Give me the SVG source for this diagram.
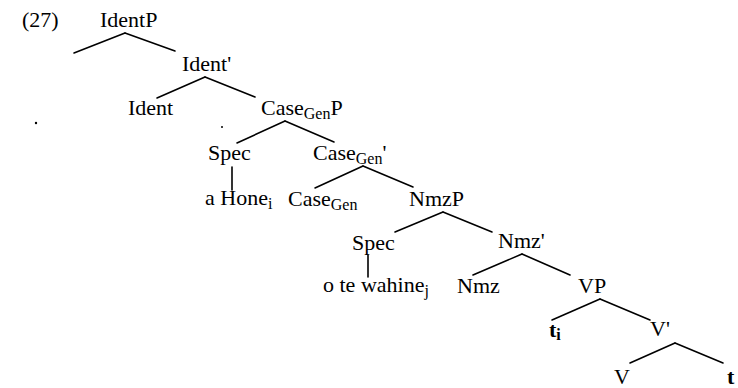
<svg xmlns="http://www.w3.org/2000/svg" width="738" height="388" viewBox="0 0 738 388">
<style>
text{font-family:"Liberation Serif","Times New Roman",serif;font-size:22px;fill:#000}
.sub{font-size:16px}
.b{font-weight:bold}
line{stroke:#000;stroke-width:1.6;stroke-linecap:round}
</style>
<rect width="738" height="388" fill="#fff"/>
<text x="22" y="27">(27)</text>
<g id="connectors">
<line x1="125" y1="33" x2="74" y2="53"/><line x1="125" y1="33" x2="175" y2="51"/>
<line x1="205" y1="77" x2="157" y2="98"/><line x1="205" y1="77" x2="255" y2="97"/>
<line x1="285" y1="121" x2="237" y2="143"/><line x1="285" y1="121" x2="334" y2="142"/>
<line x1="232" y1="167" x2="232" y2="190"/>
<line x1="363" y1="166" x2="315" y2="188"/><line x1="363" y1="166" x2="413" y2="187"/>
<line x1="443" y1="212" x2="395" y2="232"/><line x1="443" y1="212" x2="492" y2="232"/>
<line x1="368" y1="255" x2="368" y2="277"/>
<line x1="522" y1="254" x2="473" y2="275"/><line x1="522" y1="254" x2="570" y2="275"/>
<line x1="600" y1="299" x2="552" y2="320"/><line x1="600" y1="299" x2="650" y2="320"/>
<line x1="675" y1="343" x2="630" y2="363"/><line x1="675" y1="343" x2="723" y2="363"/>
</g>
<g id="n-identp"><text x="100" y="27">IdentP</text></g>
<g id="n-identbar"><text x="182" y="71">Ident'</text></g>
<g id="n-ident"><text x="128" y="115">Ident</text></g>
<g id="n-casegenp"><text x="261" y="115">Case<tspan class="sub" dy="4">Gen</tspan><tspan dy="-4">P</tspan></text></g>
<g id="n-spec1"><text x="208" y="160">Spec</text></g>
<g id="n-ahone"><text x="205" y="205">a Hone<tspan class="sub" dy="4">i</tspan></text></g>
<g id="n-casegenbar"><text x="313" y="160">Case<tspan class="sub" dy="4">Gen</tspan><tspan dy="-4">'</tspan></text></g>
<g id="n-casegen"><text x="288" y="206">Case<tspan class="sub" dy="4">Gen</tspan></text></g>
<g id="n-nmzp"><text x="409" y="206">NmzP</text></g>
<g id="n-spec2"><text x="352" y="250">Spec</text></g>
<g id="n-otewahine"><text x="323" y="292">o te wahine<tspan class="sub" dy="4">j</tspan></text></g>
<g id="n-nmzbar"><text x="498" y="248">Nmz'</text></g>
<g id="n-nmz"><text x="457" y="293">Nmz</text></g>
<g id="n-vp"><text x="578" y="293">VP</text></g>
<g id="n-ti"><text class="b" x="549" y="337">t<tspan class="sub" dy="3">i</tspan></text></g>
<g id="n-vbar"><text x="650" y="336">V'</text></g>
<g id="n-v"><text x="614" y="384">V</text></g>
<g id="n-t"><text class="b" x="727" y="384">t</text></g>
<circle cx="36" cy="123" r="1.2" fill="#000"/>
<circle cx="222" cy="127" r="1" fill="#000"/>
</svg>
